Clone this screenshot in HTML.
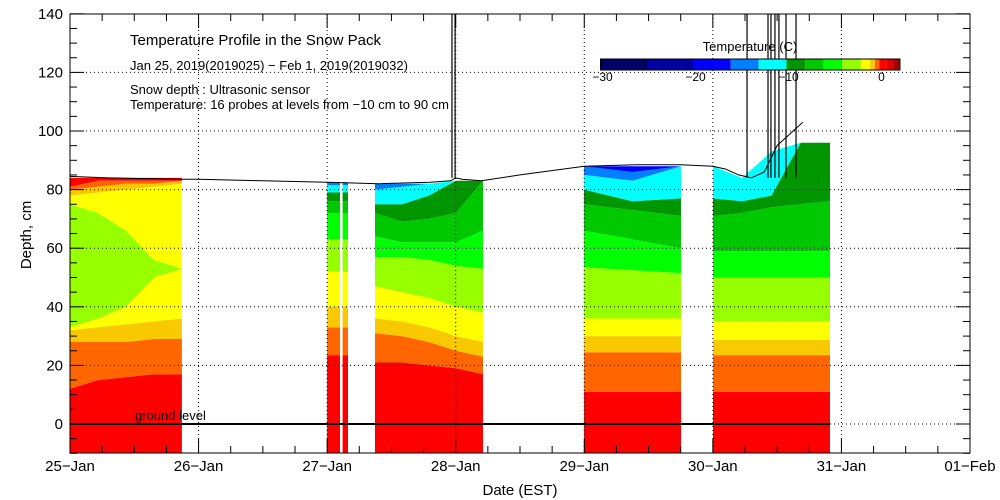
<!DOCTYPE html>
<html><head><meta charset="utf-8"><style>
body{margin:0;background:#fff;}
svg{display:block;font-family:"Liberation Sans",sans-serif;}
</style></head><body>
<svg id="chart" width="1000" height="500" viewBox="0 0 1000 500" xmlns="http://www.w3.org/2000/svg">
<g id="fills"></g>
<g id="grid"></g>
<g id="lines"></g>
<g id="axes"></g>
<g id="legend"></g>
<text x="130" y="45" font-size="15">Temperature Profile in the Snow Pack</text>
<text x="130" y="70" font-size="13">Jan 25, 2019(2019025) − Feb  1, 2019(2019032)</text>
<text x="130" y="94" font-size="13">Snow depth : Ultrasonic sensor</text>
<text x="130" y="109" font-size="13">Temperature: 16 probes at levels from −10 cm to 90 cm</text>
<text x="135" y="420" font-size="13">ground level</text>
<text x="520" y="495" font-size="15" text-anchor="middle">Date (EST)</text>
<text x="31" y="235" font-size="15" text-anchor="middle" transform="rotate(-90 31 235)">Depth, cm</text>
<text x="750" y="51" font-size="13" text-anchor="middle">Temperature (C)</text>
</svg>
<script>
const NS="http://www.w3.org/2000/svg";
const C={dr:"#640000",r:"#ff0000",o:"#ff6600",lo:"#f8c800",y:"#ffff00",li:"#96ff00",g:"#00ff00",mg:"#00c800",dg:"#009600",c:"#00ffff",lb:"#0080ff",b:"#0000ff",db:"#0000a0",n:"#000064"};
const xTickLabels=["25−Jan","26−Jan","27−Jan","28−Jan","29−Jan","30−Jan","31−Jan","01−Feb"];
const yTicks=[0,20,40,60,80,100,120,140];
const block1Range=[0,0.87];
const block1Colors=["r","o","lo","y","li","y","lo","o","r"];
const block1Tops=[[12,15,16,17,17],[28,28,28,29,29],[32,33,34,35,36],[33,36,40,50,53],[75,72,66,56,53],[78,79,80,81,82],[80,81,82,82,83],[81,83,83,83,83],[84,84,84,84,84]];
const block2aRange=[2.0,2.1];
const block2bRange=[2.12,2.162];
const block2Colors=["r","o","lo","y","li","g","mg","dg","c","lb"];
const block2Tops=[[23.5,23.5],[33,33],[40,40],[52,52],[63,63],[72,72],[76,76],[79,79],[81.5,81.5],[82.5,82.5]];
const block3Range=[2.372,3.212];
const block3Colors=["r","o","lo","y","li","g","mg","dg","c","lb"];
const block3Tops=[[21,21,20,19,17],[31,30,28,25,23],[36,35,33,30,28],[47,45,43,40,38],[57,57,56,54,53],[64,62,62,62,66],[72,69,70,72,83],[75,75,78,83,83],[80,81,82,83,83],[82,82,82,83,83]];
const block4Range=[3.998,4.752];
const block4Colors=["r","o","lo","y","li","g","mg","dg","c","lb","b"];
const block4Tops=[[11,11,11],[24.5,24.5,24.5],[30,30,30],[36,36,36],[53.5,52.5,51.5],[66,63,60],[75,73,71],[80,76,77],[85,83,88],[88,86,88],[88,88,88]];
const block5Range=[5.001,5.911];
const block5Colors=["r","o","lo","y","li","g","mg","dg","c"];
const block5Tops=[[11,11,11,11,11],[23.5,23.5,23.5,23.5,23.5],[28.7,28.7,28.7,28.7,28.7],[35,35,35,35,35],[50,50,50,50,50],[59,59,59,59,59],[71,72,74,75,76],[77,76,78,96,96],[88,84,93,96,96]];
const groundDepth=[0];
const snowDays=[0,0.3,0.87,1.0,1.5,2.0,2.4,2.8,2.96,3.0,3.05,3.2,3.5,4.0,4.4,4.75,5.0,5.1,5.2,5.3,5.4,5.5,5.6,5.7];
const snowDepths=[84.5,84,83.5,83.5,83,82.5,82,82.5,83,84,83.5,83,85,88,88.5,88.5,88,87,85,84,86,95,99,103];
const spikeDays=[2.971,2.995,5.266,5.429,5.452,5.483,5.514,5.569,5.647];
const legendBins=[-30,-25,-20,-16,-13,-10,-8,-6,-4,-2,-1,-0.5,0,0.8,1.5,2.2];
const legendColors=["n","db","b","lb","c","dg","mg","g","li","y","lo","o","r","#dc0000","#a00000"];
const legendTicks=[-30,-20,-10,0];

const X=d=>70+d*128.57, Y=v=>424-v*2.93;
const LX=t=>600.5+(t+30)*9.3;
function el(tag,attrs,parent){const e=document.createElementNS(NS,tag);for(const k in attrs)e.setAttribute(k,attrs[k]);parent.appendChild(e);return e;}
const fills=document.getElementById('fills');
function drawBlock(range,colors,tops,name){
  const n=tops[0].length;
  const ts=tops[0].map((_,i)=>range[0]+(range[1]-range[0])*i/(n-1));
  let lower=ts.map(()=>-10);
  colors.forEach((c,ci)=>{
    const upper=tops[ci];
    let pts=ts.map((t,i)=>X(t).toFixed(1)+","+Y(upper[i]).toFixed(1));
    for(let i=n-1;i>=0;i--)pts.push(X(ts[i]).toFixed(1)+","+Y(Math.min(lower[i],upper[i])).toFixed(1));
    const p=el('polygon',{points:pts.join(" "),fill:C[c]||c},fills);
    
    
    lower=upper.map((u,i)=>Math.max(u,lower[i]));
  });
}
drawBlock(block1Range,block1Colors,block1Tops,'block1');
drawBlock(block2aRange,block2Colors,block2Tops,'block2a');
drawBlock(block2bRange,block2Colors,block2Tops,'block2b');
drawBlock(block3Range,block3Colors,block3Tops,'block3');
drawBlock(block4Range,block4Colors,block4Tops,'block4');
drawBlock(block5Range,block5Colors,block5Tops,'block5');

const grid=document.getElementById('grid');
for(let i=1;i<7;i++){const l=el('line',{x1:X(i),x2:X(i),y1:14,y2:453,stroke:"#000","stroke-dasharray":"1,3"},grid);}
yTicks.forEach(v=>{if(v===140)return;const l=el('line',{x1:70,x2:970,y1:Y(v),y2:Y(v),stroke:"#000","stroke-dasharray":"1,3"},grid);});

const lines=document.getElementById('lines');
const gl=el('line',{x1:70,x2:X(5.911),y1:Y(groundDepth[0]),y2:Y(groundDepth[0]),stroke:"#000","stroke-width":2},lines);

const sl=el('polyline',{points:snowDays.map((d,i)=>X(d).toFixed(1)+","+Y(snowDepths[i]).toFixed(1)).join(" "),fill:"none",stroke:"#000","stroke-width":1},lines);

spikeDays.forEach(d=>{const s=el('line',{x1:X(d),x2:X(d),y1:Y(140),y2:Y(84),stroke:"#000","stroke-width":1.2},lines);});

const axes=document.getElementById('axes');
const fr=el('rect',{x:70,y:14,width:900,height:439,fill:"none",stroke:"#000"},axes);

for(let v=-10;v<=140;v+=5){const len=v%20===0?14:7;el('line',{x1:70,x2:70+len,y1:Y(v),y2:Y(v),stroke:"#000"},axes);el('line',{x1:970,x2:970-len,y1:Y(v),y2:Y(v),stroke:"#000"},axes);}
for(let q=0;q<=28;q++){const len=q%4===0?14:7;const x=X(q/4);el('line',{x1:x,x2:x,y1:453,y2:453-len,stroke:"#000"},axes);el('line',{x1:x,x2:x,y1:14,y2:14+len,stroke:"#000"},axes);}
yTicks.forEach(v=>{const t=el('text',{x:63,y:Y(v)+5,"font-size":15,"text-anchor":"end"},axes);t.textContent=v;});
xTickLabels.forEach((s,i)=>{const t=el('text',{x:X(i),y:471,"font-size":15,"text-anchor":"middle"},axes);t.textContent=s;});

const lg=document.getElementById('legend');
legendColors.forEach((c,i)=>{const r=el('rect',{x:LX(legendBins[i]),y:59,width:LX(legendBins[i+1])-LX(legendBins[i]),height:11,fill:C[c]||c},lg);});
el('rect',{x:LX(-30),y:59,width:LX(2.2)-LX(-30),height:11,fill:"none",stroke:"#000"},lg);
legendTicks.forEach(v=>{const t=el('text',{x:LX(v)+2,y:81,"font-size":12,"text-anchor":"middle"},lg);t.textContent=(v<0?"−"+(-v):v);});
</script>
</body></html>
